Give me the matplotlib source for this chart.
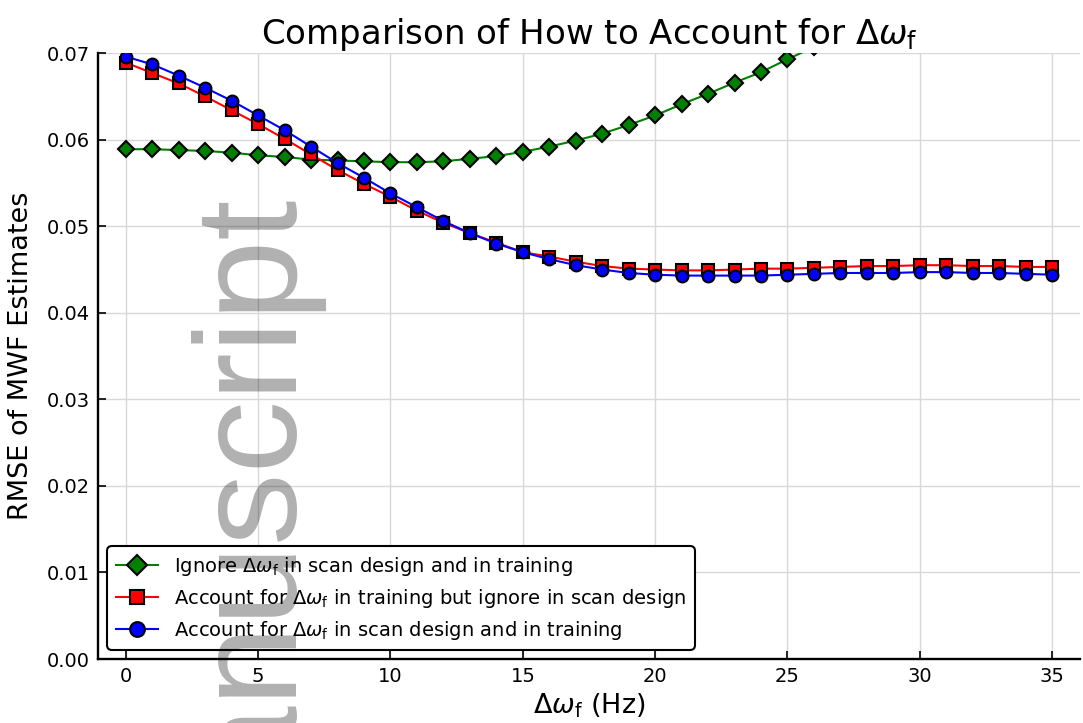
import matplotlib
matplotlib.use("Agg")
import matplotlib.pyplot as plt

# frequency offsets (Hz)
freq = list(range(0, 36))

# Ignore dwf in scan design and in training
rmse_ignore = [0.0589, 0.0589, 0.0588, 0.0587, 0.0585, 0.0582, 0.0580, 0.0577, 0.0576, 0.0575,
               0.0574, 0.0574, 0.0575, 0.0578, 0.0581, 0.0586, 0.0592, 0.0599, 0.0607, 0.0617,
               0.0628, 0.0641, 0.0653, 0.0666, 0.0678, 0.0693, 0.0707, 0.0721, 0.0736, 0.0751,
               0.0766, 0.0781, 0.0796, 0.0811, 0.0826, 0.0841]

# Account in training but ignore in scan design
rmse_train = [0.0689, 0.0677, 0.0665, 0.0650, 0.0634, 0.0618, 0.0601, 0.0583, 0.0565, 0.0549,
              0.0534, 0.0518, 0.0504, 0.0492, 0.0481, 0.0470, 0.0465, 0.0459, 0.0454, 0.0451,
              0.0450, 0.0449, 0.0449, 0.0450, 0.0451, 0.0451, 0.0452, 0.0453, 0.0454, 0.0454,
              0.0455, 0.0455, 0.0454, 0.0454, 0.0453, 0.0453]

# Account in scan design and in training
rmse_both = [0.0696, 0.0687, 0.0674, 0.0660, 0.0645, 0.0628, 0.0611, 0.0592, 0.0573, 0.0556,
             0.0538, 0.0522, 0.0506, 0.0492, 0.0480, 0.0470, 0.0462, 0.0455, 0.0450, 0.0446,
             0.0444, 0.0443, 0.0443, 0.0443, 0.0443, 0.0444, 0.0445, 0.0446, 0.0446, 0.0446,
             0.0447, 0.0447, 0.0446, 0.0446, 0.0445, 0.0444]

dw = r'$\Delta\omega_\mathrm{f}$'
labels = ['Ignore ' + dw + ' in scan design and in training',
          'Account for ' + dw + ' in training but ignore in scan design',
          'Account for ' + dw + ' in scan design and in training']

fig = plt.figure(figsize=(10.83, 7.23), dpi=100)
ax = fig.add_axes([0.0905, 0.0885, 0.9067, 0.838])

ax.plot(freq, rmse_ignore, color='green', lw=1.5, marker='D', ms=8.5,
        mfc='green', mec='black', mew=1.5, label=labels[0])
ax.plot(freq, rmse_train, color='red', lw=1.5, marker='s', ms=8,
        mfc='red', mec='black', mew=1.5, label=labels[1])
ax.plot(freq, rmse_both, color='blue', lw=1.5, marker='o', ms=8.5,
        mfc='blue', mec='black', mew=1.5, label=labels[2])

ax.set_xlim(-1.05, 36.05)
ax.set_ylim(0, 0.07)
ax.set_xticks(range(0, 36, 5))
ax.set_yticks([0.0, 0.01, 0.02, 0.03, 0.04, 0.05, 0.06, 0.07])
ax.set_yticklabels(['0.00', '0.01', '0.02', '0.03', '0.04', '0.05', '0.06', '0.07'])
ax.tick_params(direction='in', length=6, width=1.2, labelsize=14, pad=6)
ax.grid(True, color='#d8d8d8', lw=1)
ax.set_axisbelow(True)
for s in ['top', 'right']:
    ax.spines[s].set_visible(False)
for s in ['left', 'bottom']:
    ax.spines[s].set_linewidth(1.7)

ax.set_title('Comparison of How to Account for ' + dw, fontsize=24.5, pad=6)
ax.set_xlabel(dw + ' (Hz)', fontsize=19.5, labelpad=4)
ax.set_ylabel('RMSE of MWF Estimates', fontsize=19.5, labelpad=9)

leg = ax.legend(loc='lower left', fontsize=14, frameon=True, fancybox=True,
                edgecolor='black', framealpha=1, borderaxespad=0.45,
                handlelength=2.2, labelspacing=0.45, markerscale=1.25,
                borderpad=0.45)
leg.get_frame().set_linewidth(1.5)
leg.get_frame().set_boxstyle('round,pad=0,rounding_size=0.25')

# watermark
fig.text(297 / 1083, 1 - 200 / 723, 'Author Manuscript', rotation=90,
         rotation_mode='anchor', ha='right', va='baseline',
         family='Liberation Sans', fontsize=104, color='black', alpha=0.31,
         zorder=10)

fig.savefig('out.png', dpi=100)
